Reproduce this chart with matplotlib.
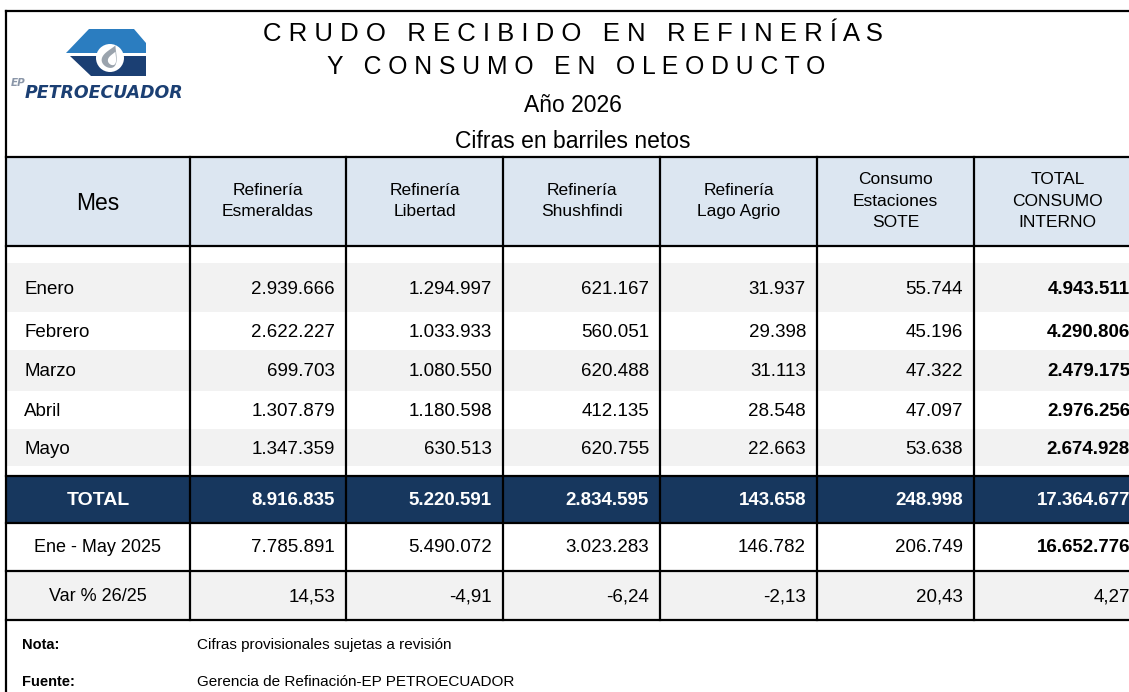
import matplotlib
matplotlib.use("Agg")
import matplotlib.pyplot as plt
from matplotlib.patches import Rectangle, Polygon, Circle
import numpy as np

plt.rcParams['font.family'] = ['Liberation Sans', 'DejaVu Sans']

# ---------------- data ----------------
months = ["Enero", "Febrero", "Marzo", "Abril", "Mayo"]
headers = ["Mes", "Refinería\nEsmeraldas", "Refinería\nLibertad", "Refinería\nShushfindi",
           "Refinería\nLago Agrio", "Consumo\nEstaciones\nSOTE", "TOTAL\nCONSUMO\nINTERNO"]

esmeraldas = [2939666, 2622227, 699703, 1307879, 1347359]
libertad = [1294997, 1033933, 1080550, 1180598, 630513]
shushufindi = [621167, 560051, 620488, 412135, 620755]
lago_agrio = [31937, 29398, 31113, 28548, 22663]
sote = [55744, 45196, 47322, 47097, 53638]
total_interno = [4943511, 4290806, 2479175, 2976256, 2674928]

total_2026 = [8916835, 5220591, 2834595, 143658, 248998, 17364677]
total_2025 = [7785891, 5490072, 3023283, 146782, 206749, 16652776]
var_pct = [14.53, -4.91, -6.24, -2.13, 20.43, 4.27]

row_labels = ["TOTAL", "Ene - May 2025", "Var % 26/25"]
nota = "Cifras provisionales sujetas a revisión"
fuente = "Gerencia de Refinación-EP PETROECUADOR"

# ---------------- layout (pixels) ----------------
col_edges = [6, 190, 346, 503, 660, 817, 974, 1141]
month_rows = [263, 312, 350, 391, 429, 466]
hdr_top, hdr_bot = 157, 246
lower_rows = [476, 523, 571, 620]

NAVY = "#17375E"
HDR = "#DCE6F1"
GRAY = "#F2F2F2"
LW = 1.6


def fmt_int(v):
    return f"{v:,}".replace(",", ".")


def fmt_pct(v):
    return f"{v:.2f}".replace(".", ",")


fig = plt.figure(figsize=(11.29, 6.92), dpi=100)
ax = fig.add_axes([0, 0, 1, 1])
ax.set_xlim(0, 1129)
ax.set_ylim(692, 0)
ax.axis('off')

x0, x1 = col_edges[0], col_edges[-1]

# fills
ax.add_patch(Rectangle((x0, hdr_top), x1 - x0, hdr_bot - hdr_top, color=HDR, lw=0))
for i in range(len(months)):
    if i % 2 == 0:
        ax.add_patch(Rectangle((x0, month_rows[i]), x1 - x0, month_rows[i + 1] - month_rows[i],
                               color=GRAY, lw=0))
ax.add_patch(Rectangle((x0, lower_rows[0]), x1 - x0, lower_rows[1] - lower_rows[0], color=NAVY, lw=0))
ax.add_patch(Rectangle((x0, lower_rows[2]), x1 - x0, lower_rows[3] - lower_rows[2], color=GRAY, lw=0))

# grid lines
ax.plot([x0, x0], [11, 692], color='black', lw=LW)
ax.plot([x0, x1], [11, 11], color='black', lw=LW)
for y in [hdr_top, hdr_bot] + lower_rows:
    ax.plot([x0, x1], [y, y], color='black', lw=LW)
for x in col_edges[1:]:
    ax.plot([x, x], [hdr_top, lower_rows[-1]], color='black', lw=LW)

# title block
cx = 573
ax.text(cx, 34, " ".join("CRUDO RECIBIDO EN REFINERÍAS"), ha='center', va='center', fontsize=18.5)
ax.text(cx + 3, 67, " ".join("Y CONSUMO EN OLEODUCTO"), ha='center', va='center', fontsize=17.8)
ax.text(cx, 105, "Año 2026", ha='center', va='center', fontsize=16.5)
ax.text(cx, 142, "Cifras en barriles netos", ha='center', va='center', fontsize=16.5)

# logo
ax.add_patch(Polygon([(66, 53), (89, 29), (134, 29), (146, 43), (146, 53)], closed=True,
                     color="#2B7DC0", lw=0))
ax.add_patch(Polygon([(70, 56), (146, 56), (146, 76), (91, 76)], closed=True,
                     color="#1B3F73", lw=0))
ax.add_patch(Circle((110, 58), 14, color="white", lw=0))
t = np.linspace(0, 2 * np.pi, 80)
dx = np.sin(t) * np.sin(t / 2) ** 1.6
dy = np.cos(t)
ang = np.deg2rad(25)
px = 111 + 12 * (dx * np.cos(ang) + dy * np.sin(ang)) * 0.9
py = 56 - 16 * (-dx * np.sin(ang) + dy * np.cos(ang)) * 0.75
ax.add_patch(Polygon(np.column_stack([px, py]), closed=True, color="#9AA3AD", lw=0))
ax.add_patch(Polygon(np.column_stack([111 + (px - 111) * 0.55 + 2, 56 + (py - 56) * 0.6 + 2]),
                     closed=True, color="white", lw=0))
ax.text(11, 83, "EP", fontsize=7.5, color="#8A96A8", style='italic', fontweight='bold',
        va='center', family='DejaVu Sans')
ax.text(25, 93, "PETROECUADOR", fontsize=12.5, color="#1B3F73", style='italic',
        fontweight='bold', va='center', family='DejaVu Sans')

# headers
for j, h in enumerate(headers):
    xc = (col_edges[j] + col_edges[j + 1]) / 2
    if j == 0:
        ax.text(xc, 203, h, ha='center', va='center', fontsize=16.5)
    else:
        ax.text(xc, 201, h, ha='center', va='center', fontsize=12.5, linespacing=1.58)

# month rows
cols = [esmeraldas, libertad, shushufindi, lago_agrio, sote, total_interno]
for i, m in enumerate(months):
    yc = (month_rows[i] + month_rows[i + 1]) / 2 + 1.5
    ax.text(24, yc, m, ha='left', va='center', fontsize=13.5)
    for j, vals in enumerate(cols):
        ax.text(col_edges[j + 2] - 11, yc, fmt_int(vals[i]), ha='right', va='center',
                fontsize=13.5, fontweight='bold' if j == 5 else 'normal')

# lower rows
lower_vals = [[fmt_int(v) for v in total_2026], [fmt_int(v) for v in total_2025],
              [fmt_pct(v) for v in var_pct]]
for r, lab in enumerate(row_labels):
    yc = (lower_rows[r] + lower_rows[r + 1]) / 2 + 1
    color = 'white' if r == 0 else 'black'
    ax.text(98, yc, lab, ha='center', va='center', fontsize=14 if r == 0 else 13, color=color,
            fontweight='bold' if r == 0 else 'normal')
    for j, s in enumerate(lower_vals[r]):
        bold = r == 0 or (r == 1 and j == 5)
        ax.text(col_edges[j + 2] - 11, yc, s, ha='right', va='center', fontsize=13.5,
                color=color, fontweight='bold' if bold else 'normal')

# notes
ax.text(22, 645, "Nota:", fontsize=10.5, fontweight='bold', va='center')
ax.text(197, 645, nota, fontsize=11, va='center')
ax.text(22, 682, "Fuente:", fontsize=10.5, fontweight='bold', va='center')
ax.text(197, 682, fuente, fontsize=11, va='center')

fig.savefig("out.png", dpi=100)
